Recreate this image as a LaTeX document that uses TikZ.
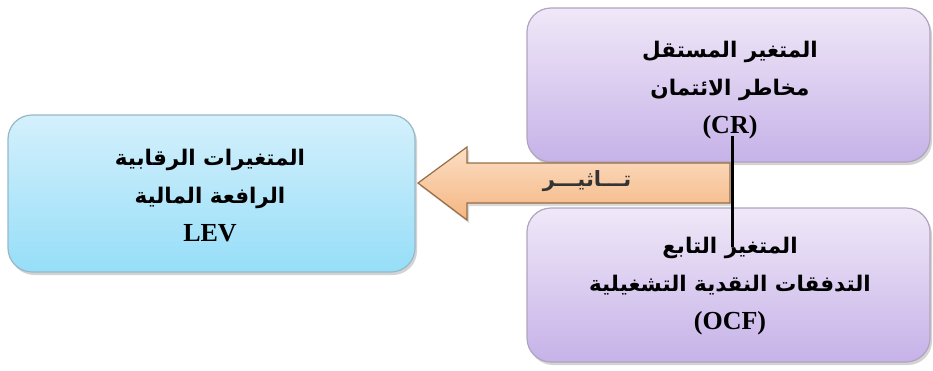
\documentclass[tikz,border=0pt]{standalone}
\usepackage{fontspec}
\setmainfont{Liberation Serif}
\newfontfamily\arabicfont[Script=Arabic]{DejaVu Sans}
\TeXXeTstate=1
\usetikzlibrary{shadows}
\definecolor{purpTop}{RGB}{240,232,248}
\definecolor{purpBot}{RGB}{198,178,232}
\definecolor{purpBorder}{RGB}{175,165,190}
\definecolor{blueTop}{RGB}{212,240,252}
\definecolor{blueBot}{RGB}{150,222,248}
\definecolor{blueBorder}{RGB}{150,185,200}
\definecolor{arrTop}{RGB}{252,222,196}
\definecolor{arrBot}{RGB}{244,182,130}
\definecolor{arrBorder}{RGB}{150,110,70}
\newcommand{\ar}[1]{{\fontsize{21.5}{38}\selectfont\arabicfont\bfseries\beginR #1\endR}}
\newcommand{\lt}[1]{{\fontsize{26}{38}\selectfont\bfseries #1}}
\tikzset{
  purpbox/.style={draw=purpBorder, line width=1.2pt, rounded corners=24pt,
    top color=purpTop, bottom color=purpBot, minimum width=403pt, minimum height=154pt,
    drop shadow={shadow xshift=2pt, shadow yshift=-3pt, opacity=0.35}},
  bluebox/.style={draw=blueBorder, line width=1.2pt, rounded corners=24pt,
    top color=blueTop, bottom color=blueBot, minimum width=407pt, minimum height=157pt,
    drop shadow={shadow xshift=2pt, shadow yshift=-3pt, opacity=0.35}},
  boxtext/.style={align=center, font=\fontsize{21}{38}\selectfont},
}
\begin{document}
\begin{tikzpicture}[x=1pt,y=-1pt]
\useasboundingbox (0,0) rectangle (933,370);
\node[purpbox] (crbox) at (728.5,85) {};
\node[purpbox] (ocfbox) at (728.5,285) {};
\node[bluebox] (levbox) at (211.5,193.5) {};
\node[boxtext] (crtext) at (730,90) {\ar{المتغير المستقل}\\\ar{مخاطر الائتمان}\\\lt{(CR)}};
\node[boxtext] (ocftext) at (730,286) {\ar{المتغير التابع}\\\ar{التدفقات النقدية التشغيلية}\\\lt{(OCF)}};
\node[boxtext] (levtext) at (210,196) {\ar{المتغيرات الرقابية}\\\ar{الرافعة المالية}\\\lt{LEV}};
% arrow
\path[draw=arrBorder, line width=1.2pt, top color=arrTop, bottom color=arrBot,
  drop shadow={shadow xshift=2pt, shadow yshift=-3pt, opacity=0.3}]
  (730,163) -- (467,163) -- (467,147) -- (418,183) -- (467,220) -- (467,203) -- (730,203) -- cycle;
\node[font=\fontsize{21}{24}\selectfont\bfseries\arabicfont, text=black!80] (arrlabel) at (587,181) {\beginR تـــاثيـــر\endR};
% vertical line
\coordinate (ltop) at (732,136);
\coordinate (lbot) at (732,247);
\draw[line width=3pt] (ltop) -- (lbot);
\end{tikzpicture}
\end{document}
